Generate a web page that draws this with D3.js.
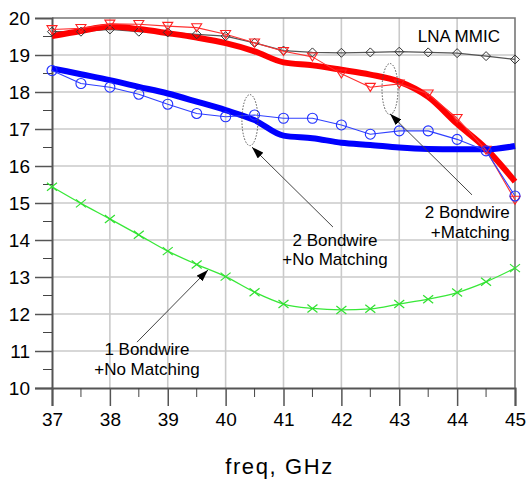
<!DOCTYPE html>
<html>
<head>
<meta charset="utf-8">
<script src="https://d3js.org/d3.v7.min.js"></script>
<style>
  body { margin: 0; background: #fff; }
  text { font-family: Arial, "Liberation Sans", sans-serif; fill: #000; }
</style>
</head>
<body>
<svg id="chart" width="527" height="479"></svg>
<script>
// frequency points, GHz
const freq = [37, 37.5, 38, 38.5, 39, 39.5, 40, 40.5, 41, 41.5, 42, 42.5, 43, 43.5, 44, 44.5, 45];

// gain values (dB)
const redThick   = [19.51, 19.65, 19.77, 19.70, 19.59, 19.47, 19.32, 19.10, 18.80, 18.72, 18.60, 18.47, 18.28, 17.87, 17.14, 16.47, 15.58];
const redThin    = [19.69, 19.72, 19.84, 19.83, 19.78, 19.74, 19.56, 19.33, 19.10, 18.95, 18.49, 18.13, 18.22, 17.95, 17.29, 16.43, 15.08];
const blackThin  = [19.63, 19.63, 19.69, 19.63, 19.61, 19.56, 19.51, 19.33, 19.12, 19.07, 19.06, 19.07, 19.09, 19.07, 19.05, 18.97, 18.88];
const blueThick  = [18.64, 18.48, 18.32, 18.14, 17.96, 17.74, 17.51, 17.24, 16.82, 16.75, 16.63, 16.57, 16.50, 16.46, 16.45, 16.45, 16.54];
const blueThin   = [18.58, 18.23, 18.13, 17.94, 17.67, 17.42, 17.33, 17.38, 17.29, 17.29, 17.11, 16.86, 16.95, 16.95, 16.72, 16.41, 15.19];
const greenThin  = [15.44, 14.99, 14.57, 14.14, 13.70, 13.34, 13.01, 12.59, 12.27, 12.15, 12.11, 12.14, 12.27, 12.40, 12.58, 12.87, 13.24];

const xTicks = [37, 38, 39, 40, 41, 42, 43, 44, 45];
const yTicks = [10, 11, 12, 13, 14, 15, 16, 17, 18, 19, 20];

const svg = d3.select("#chart");
const x = d3.scaleLinear().domain([37, 45]).range([52, 515]);
const y = d3.scaleLinear().domain([10, 20]).range([388, 18]);

// grid
svg.append("g").selectAll("line").data(yTicks.slice(1, -1))
  .join("line")
  .attr("x1", x(37)).attr("x2", x(45))
  .attr("y1", d => y(d)).attr("y2", d => y(d))
  .attr("stroke", "#cacaca").attr("stroke-width", 1.6);
svg.append("g").selectAll("line").data(xTicks.slice(1, -1))
  .join("line")
  .attr("x1", d => x(d)).attr("x2", d => x(d))
  .attr("y1", y(10)).attr("y2", y(20))
  .attr("stroke", "#cacaca").attr("stroke-width", 1.6);

// border top/right
svg.append("path")
  .attr("d", `M${x(37)},${y(20)}H${x(45)}V${y(10)}`)
  .attr("fill", "none").attr("stroke", "#777").attr("stroke-width", 1.6);

// axes
const yAxis = svg.append("g").attr("transform", `translate(${x(37)},0)`)
  .call(d3.axisLeft(y).tickValues(yTicks).tickSize(17).tickPadding(5).tickFormat(d3.format("d")));
yAxis.append("g").selectAll("line").data(d3.range(10.5, 20, 1))
  .join("line").attr("x1", -9).attr("x2", 0).attr("y1", d => y(d)).attr("y2", d => y(d))
  .attr("stroke", "#444");
const xAxis = svg.append("g").attr("transform", `translate(0,${y(10)})`)
  .call(d3.axisBottom(x).tickValues(xTicks).tickSize(18).tickPadding(7).tickFormat(d3.format("d")));
xAxis.append("g").selectAll("line").data(d3.range(37.5, 45, 1))
  .join("line").attr("y1", 0).attr("y2", 9).attr("x1", d => x(d)).attr("x2", d => x(d))
  .attr("stroke", "#444");
[yAxis, xAxis].forEach(a => {
  a.select(".domain").attr("stroke", "#555").attr("stroke-width", 2);
  a.selectAll(".tick line").attr("stroke", "#555").attr("stroke-width", 1.5);
  a.selectAll("text").attr("font-size", 19).attr("font-family", "Arial, 'Liberation Sans', sans-serif").attr("fill", "#000");
});
yAxis.selectAll(".tick").filter(d => d === 20).select("line").remove();

svg.append("text").attr("x", (x(37) + x(45)) / 2 - 4).attr("y", 474)
  .attr("text-anchor", "middle").attr("font-size", 22).attr("letter-spacing", 1.6)
  .text("freq, GHz");

// series
const line = d3.line().x((d, i) => x(freq[i])).y(d => y(d));
const smooth = d3.line().x((d, i) => x(freq[i])).y(d => y(d)).curve(d3.curveMonotoneX);

function drawLine(vals, color, width, gen) {
  svg.append("path").datum(vals).attr("d", gen).attr("fill", "none")
    .attr("stroke", color).attr("stroke-width", width).attr("stroke-linejoin", "round");
}

drawLine(greenThin, "#38e838", 1.3, smooth);
drawLine(blackThin, "#555", 1.3, line);
drawLine(redThick, "#ff0000", 6, smooth);
drawLine(blueThick, "#0000ff", 6, smooth);
drawLine(redThin, "#ff3030", 1.1, line);
drawLine(blueThin, "#3040ff", 1.1, line);

const markers = svg.append("g").attr("fill", "none");
markers.selectAll(".g").data(greenThin).join("path")
  .attr("d", (d, i) => { const cx = x(freq[i]), cy = y(d), s = 5;
    return `M${cx - s},${cy - s * 0.8}L${cx + s},${cy + s * 0.8}M${cx - s},${cy + s * 0.8}L${cx + s},${cy - s * 0.8}`; })
  .attr("stroke", "#30e030").attr("stroke-width", 1.2);
markers.selectAll(".k").data(blackThin).join("path")
  .attr("d", (d, i) => { const cx = x(freq[i]), cy = y(d), s = 4.5;
    return `M${cx - s},${cy}L${cx},${cy - s}L${cx + s},${cy}L${cx},${cy + s}Z`; })
  .attr("stroke", "#333").attr("stroke-width", 1);
markers.selectAll(".r").data(redThin).join("path")
  .attr("d", (d, i) => { const cx = x(freq[i]), cy = y(d);
    return `M${cx - 5},${cy - 3.8}L${cx + 5},${cy - 3.8}L${cx},${cy + 4.2}Z`; })
  .attr("stroke", "#ff2020").attr("stroke-width", 1.1);
markers.selectAll(".b").data(blueThin).join("circle")
  .attr("cx", (d, i) => x(freq[i])).attr("cy", d => y(d)).attr("r", 5)
  .attr("stroke", "#2030ff").attr("stroke-width", 1.1);

// annotations
svg.append("defs").append("marker")
  .attr("id", "head").attr("viewBox", "0 0 12 8").attr("refX", 12).attr("refY", 4)
  .attr("markerWidth", 12).attr("markerHeight", 8).attr("markerUnits", "userSpaceOnUse")
  .attr("orient", "auto")
  .append("path").attr("d", "M0,0L12,4L0,8Z").attr("fill", "#000");

const ellipses = [[40.42, 17.24], [42.84, 18.08]];
svg.append("g").selectAll("ellipse").data(ellipses).join("ellipse")
  .attr("cx", d => x(d[0])).attr("cy", d => y(d[1])).attr("rx", 8).attr("ry", 25.5)
  .attr("fill", "none").attr("stroke", "#555").attr("stroke-width", 1).attr("stroke-dasharray", "1.5,1.5");

const arrows = [[41.855, 14.35, 40.456, 16.51], [44.257, 15.22, 42.84, 17.41], [38.469, 11.24, 39.695, 13.19]];
svg.append("g").selectAll("line").data(arrows).join("line")
  .attr("x1", d => x(d[0])).attr("y1", d => y(d[1])).attr("x2", d => x(d[2])).attr("y2", d => y(d[3]))
  .attr("stroke", "#444").attr("stroke-width", 1).attr("marker-end", "url(#head)");

const labels = [
  { fx: 41.89, fy: 13.85, lines: ["2 Bondwire", "+No Matching"], anchor: "middle" },
  { fx: 44.91, fy: 14.59, lines: ["2 Bondwire", "+Matching"], anchor: "end" },
  { fx: 38.64, fy: 10.89, lines: ["1 Bondwire", "+No Matching"], anchor: "middle" },
  { fx: 43.32, fy: 19.36, lines: ["LNA MMIC"], anchor: "start" }
];
labels.forEach(l => {
  const t = svg.append("text").attr("x", x(l.fx)).attr("y", y(l.fy))
    .attr("text-anchor", l.anchor).attr("font-size", 17);
  l.lines.forEach((s, i) => t.append("tspan").attr("x", x(l.fx)).attr("dy", i ? 19.5 : 0).text(s));
});
</script>
</body>
</html>
